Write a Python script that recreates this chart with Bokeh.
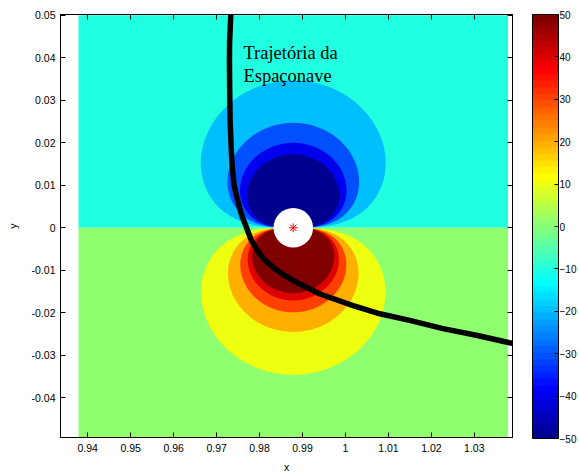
import numpy as np
from bokeh.plotting import figure
from bokeh.models import Range1d, LinearAxis, FixedTicker, ColorBar, LinearColorMapper
from bokeh.core.properties import value
from bokeh.embed import file_html
from bokeh.resources import INLINE

# ---------------- data ----------------
moon_x = [0.98785]
moon_y = [0.0]
moon_radius = 0.0046

field_x = [0.93785, 1.03785]
field_y = [-0.05, 0.05]

# contour boundaries above the Moon (value of boundary) and their top heights
upper_levels = [-10, -20, -30, -40]
upper_heights = [0.0347, 0.0247, 0.0200, 0.0173]
upper_fill_levels = [-20, -30, -40, -50]
upper_bg_level = -10

# contour boundaries below the Moon and their depths
lower_levels = [10, 20, 30, 40, 50]
lower_heights = [0.0346, 0.0245, 0.0199, 0.0171, 0.0154]
lower_fill_levels = [10, 20, 30, 40, 50]
lower_bg_level = 0

traj_x = [0.97331, 0.97303, 0.97299, 0.97306, 0.97315, 0.97338, 0.97361, 0.97408,
          0.97489, 0.97582, 0.97698, 0.97803, 0.97935, 0.98105, 0.98321, 0.98593,
          0.98864, 0.99406, 1.00179, 1.00800, 1.01496, 1.02270, 1.03046, 1.03889]
traj_y = [0.0502, 0.04372, 0.03907, 0.03209, 0.02512, 0.01930, 0.01465, 0.01000,
          0.00651, 0.00302, 0.0, -0.00279, -0.00512, -0.00744, -0.00937, -0.01128,
          -0.01286, -0.01558, -0.01830, -0.02023, -0.02179, -0.02372, -0.02528, -0.02721]

label_lines = ["Trajetória da", "Espaçonave"]
label_x = [0.97624, 0.97624]
label_y = [0.04117, 0.03573]

x_ticks = [0.94, 0.95, 0.96, 0.97, 0.98, 0.99, 1.0, 1.01, 1.02, 1.03]
x_labels = ["0.94", "0.95", "0.96", "0.97", "0.98", "0.99", "1", "1.01", "1.02", "1.03"]
y_ticks = [-0.04, -0.03, -0.02, -0.01, 0.0, 0.01, 0.02, 0.03, 0.04, 0.05]
y_labels = ["-0.04", "-0.03", "-0.02", "-0.01", "0", "0.01", "0.02", "0.03", "0.04", "0.05"]
cbar_ticks = [-50, -40, -30, -20, -10, 0, 10, 20, 30, 40, 50]
clim = [-50, 50]


# ---------------- MATLAB jet colormap ----------------
def jet(m=64):
    n = int(np.ceil(m / 4))
    u = np.concatenate([np.arange(1, n + 1) / n, np.ones(n - 1), np.arange(n, 0, -1) / n])
    g = int(np.ceil(n / 2)) - (1 if m % 4 == 1 else 0) + np.arange(1, len(u) + 1)
    r = g + n
    b = g - n
    J = np.zeros((m, 3))
    k = r <= m
    J[r[k] - 1, 0] = u[k]
    k = g <= m
    J[g[k] - 1, 1] = u[k]
    k = (b >= 1) & (b <= m)
    J[b[k] - 1, 2] = u[k]
    return ['#%02x%02x%02x' % tuple(int(round(c * 255)) for c in row) for row in J]


palette = jet(64)


def level_color(v):
    idx = int(np.floor((v - clim[0]) / (clim[1] - clim[0]) * len(palette)))
    return palette[max(0, min(len(palette) - 1, idx))]


def lobe(h, sign):
    th = np.linspace(0, np.pi, 241)
    r = h * np.sqrt(np.sin(th))
    return list(moon_x[0] + r * np.cos(th)), list(moon_y[0] + sign * r * np.sin(th))


# ---------------- figure ----------------
p = figure(width=579, height=475,
           x_range=Range1d(0.93366, 1.03889), y_range=Range1d(-0.04935, 0.0502),
           output_backend="svg", toolbar_location=None,
           min_border_left=60, min_border_top=14, min_border_right=66, min_border_bottom=35)
p.xgrid.visible = False
p.ygrid.visible = False
p.outline_line_color = "black"
p.background_fill_color = "white"
p.border_fill_color = "white"

# backgrounds
p.quad(left=[field_x[0]], right=[field_x[1]], bottom=[0.0], top=[field_y[1]],
       fill_color=level_color(upper_bg_level), line_color=None)
p.quad(left=[field_x[0]], right=[field_x[1]], bottom=[field_y[0]], top=[0.0],
       fill_color=level_color(lower_bg_level), line_color=None)

for h, lv in zip(upper_heights, upper_fill_levels):
    xs, ys = lobe(h, 1)
    p.patch(xs, ys, fill_color=level_color(lv), line_color=None)
for h, lv in zip(lower_heights, lower_fill_levels):
    xs, ys = lobe(h, -1)
    p.patch(xs, ys, fill_color=level_color(lv), line_color=None)

p.circle(x=moon_x, y=moon_y, radius=moon_radius, fill_color="white", line_color=None)
p.line(traj_x, traj_y, line_color="black", line_width=5.5)
p.scatter(x=moon_x, y=moon_y, marker="asterisk", size=9, line_color="red", line_width=1)
p.text(x=label_x, y=label_y, text=label_lines, text_font=value("Liberation Serif"),
       text_font_size="18.5px", text_color="black", text_baseline="alphabetic", text_align="left")

tick_font = "Liberation Sans"
fs = "10.5px"

for ax in (p.xaxis[0], p.yaxis[0]):
    ax.major_tick_in = 5
    ax.major_tick_out = 0
    ax.minor_tick_in = 0
    ax.minor_tick_out = 0
    ax.axis_line_color = "black"
    ax.major_tick_line_color = "black"
    ax.major_label_text_font = tick_font
    ax.major_label_text_font_size = fs
    ax.major_label_text_color = "black"
    ax.axis_label_text_font = tick_font
    ax.axis_label_text_font_size = fs
    ax.axis_label_text_font_style = "normal"
    ax.axis_label_text_color = "black"

p.xaxis.ticker = FixedTicker(ticks=x_ticks)
p.xaxis.major_label_overrides = dict(zip(x_ticks, x_labels))
p.xaxis.axis_label = "x"
p.xaxis.major_label_standoff = 6
p.xaxis.axis_label_standoff = 6
p.yaxis.ticker = FixedTicker(ticks=y_ticks)
p.yaxis.major_label_overrides = dict(zip(y_ticks, y_labels))
p.yaxis.axis_label = "y"
p.yaxis.major_label_standoff = 5
p.yaxis.axis_label_standoff = 10


def tick_only_axis(ticks):
    return LinearAxis(ticker=FixedTicker(ticks=ticks), major_label_text_font_size="0px",
                      major_label_text_color=None,
                      major_tick_in=5, major_tick_out=0, minor_tick_in=0, minor_tick_out=0,
                      major_label_standoff=0, axis_line_color="black",
                      major_tick_line_color="black")


p.add_layout(tick_only_axis(x_ticks), "above")
p.add_layout(tick_only_axis(y_ticks), "right")

# invisible spacer between the frame and the colour bar (ticks drawn with no colour)
spacer = LinearAxis(ticker=FixedTicker(ticks=[0.0]), major_label_text_font_size="0px",
                    major_label_text_color=None, major_tick_in=0, major_tick_out=20,
                    minor_tick_in=0, minor_tick_out=0, major_label_standoff=0,
                    axis_line_color=None, major_tick_line_color=None, minor_tick_line_color=None)
p.add_layout(spacer, "right")

mapper = LinearColorMapper(palette=palette, low=clim[0], high=clim[1])
cb = ColorBar(color_mapper=mapper, width=26, height=424, padding=0, margin=0,
              ticker=FixedTicker(ticks=cbar_ticks),
              major_tick_in=4, major_tick_out=0, major_tick_line_color="black",
              minor_tick_in=0, minor_tick_out=0,
              bar_line_color="black", label_standoff=1,
              major_label_text_font=tick_font, major_label_text_font_size="10px",
              major_label_text_color="black", background_fill_color="white")
p.add_layout(cb, "right")

open("out.html", "w").write(file_html(p, INLINE))
